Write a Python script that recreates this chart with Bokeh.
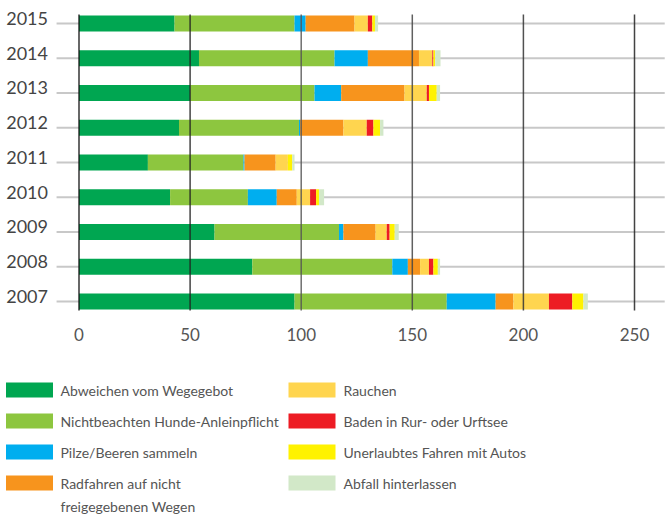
from bokeh.plotting import figure
from bokeh.models import Range1d, ColumnDataSource, FixedTicker
from bokeh.layouts import column
from bokeh.embed import file_html
from bokeh.resources import INLINE
from bokeh.core.properties import value

years = ["2007", "2008", "2009", "2010", "2011", "2012", "2013", "2014", "2015"]
series = ["Abweichen vom Wegegebot", "Nichtbeachten Hunde-Anleinpflicht", "Pilze/Beeren sammeln",
          "Radfahren auf nicht\nfreigegebenen Wegen", "Rauchen", "Baden in Rur- oder Urftsee",
          "Unerlaubtes Fahren mit Autos", "Abfall hinterlassen"]
colors = ["#00a651", "#8dc63f", "#00aeef", "#f7941d", "#ffd54f", "#ed1c24", "#fff200", "#d2e8c8"]

abweichen = [97, 78, 61, 41, 31, 45, 50, 54, 43]
hunde     = [68.5, 63, 56, 35, 43, 54, 56, 61, 54]
pilze     = [22, 7, 2, 13, 0.5, 0.5, 12, 15, 5]
radfahren = [8, 5.5, 14.5, 9, 14, 19.5, 28.5, 23, 22]
rauchen   = [16, 4, 5, 6, 5.5, 10.5, 10, 6, 6]
baden     = [10.5, 2, 1.3, 2.7, 0, 3, 1, 0.5, 2]
fahren    = [5, 2, 2.3, 1.3, 2, 3, 3.5, 0.8, 1.2]
abfall    = [2, 1, 1.8, 2.3, 1, 1.5, 1.5, 2.4, 1.4]
x_ticks = [0, 50, 100, 150, 200, 250]

keys = ["s0", "s1", "s2", "s3", "s4", "s5", "s6", "s7"]
vals = [abweichen, hunde, pilze, radfahren, rauchen, baden, fahren, abfall]
data = {"y": list(range(len(years))), "year": years}
for k, v in zip(keys, vals):
    data[k] = v
src = ColumnDataSource(data)

FONT = "Lato"
p = figure(output_backend="svg", toolbar_location=None,
           frame_width=666, frame_height=312,
           min_border_left=0, min_border_right=0, min_border_top=0, min_border_bottom=41,
           x_range=Range1d(-35.33, 264.4), y_range=Range1d(-0.317, 8.66))
p.outline_line_color = None
p.xgrid.visible = False
p.ygrid.visible = False
p.yaxis.visible = False

ys = list(range(len(years)))
# category lines behind bars
p.segment(x0=[-10.1] * len(ys), x1=[263.6] * len(ys), y0=ys, y1=ys,
          line_color="#c8c8c8", line_width=2)

p.hbar_stack(keys, y="y", height=0.46, color=colors, source=src, line_width=0)

# vertical grid lines above bars
p.segment(x0=x_ticks, x1=x_ticks, y0=[-0.26] * len(x_ticks), y1=[8.26] * len(x_ticks),
          line_color=["#111111", "#222222", "#555555", "#444444", "#333333", "#222222"],
          line_width=1.5, line_alpha=0.85)

p.text(x=[0] * len(ys), y=ys, text=years, x_offset=-31, y_offset=-5,
       text_align="right", text_baseline="middle", text_font=value(FONT),
       text_font_size="18px", text_color="#444444")

ax = p.xaxis[0]
ax.ticker = FixedTicker(ticks=x_ticks)
ax.axis_line_color = None
ax.major_tick_line_color = None
ax.minor_tick_line_color = None
ax.major_label_standoff = 9
ax.major_label_text_font = FONT
ax.major_label_text_font_size = "17px"
ax.major_label_text_color = "#555555"

# legend
lg = figure(output_backend="svg", toolbar_location=None,
            frame_width=666, frame_height=163,
            min_border_left=0, min_border_right=0, min_border_top=0, min_border_bottom=0,
            x_range=Range1d(0, 666), y_range=Range1d(516, 353))
lg.outline_line_color = None
lg.xaxis.visible = False
lg.yaxis.visible = False
lg.xgrid.visible = False
lg.ygrid.visible = False

col_x = [29, 311.5]
txt_x = [60, 343]
sx, sy, tx, ty, lines = [], [], [], [], []
for i, name in enumerate(series):
    c, r = divmod(i, 4)
    yc = 389.5 + 31 * r
    sx.append(col_x[c]); sy.append(yc)
    for j, ln in enumerate(name.split("\n")):
        tx.append(txt_x[c]); ty.append(yc + 23 * j); lines.append(ln)
lg.rect(x=sx, y=sy, width=47, height=15, fill_color=colors, line_color=None)
lg.text(x=tx, y=ty, text=lines, text_align="left", text_baseline="middle",
        text_font=value(FONT), text_font_size="14px", text_color="#555555")

layout = column(p, lg, spacing=0)
open("out.html", "w").write(file_html(layout, INLINE))
